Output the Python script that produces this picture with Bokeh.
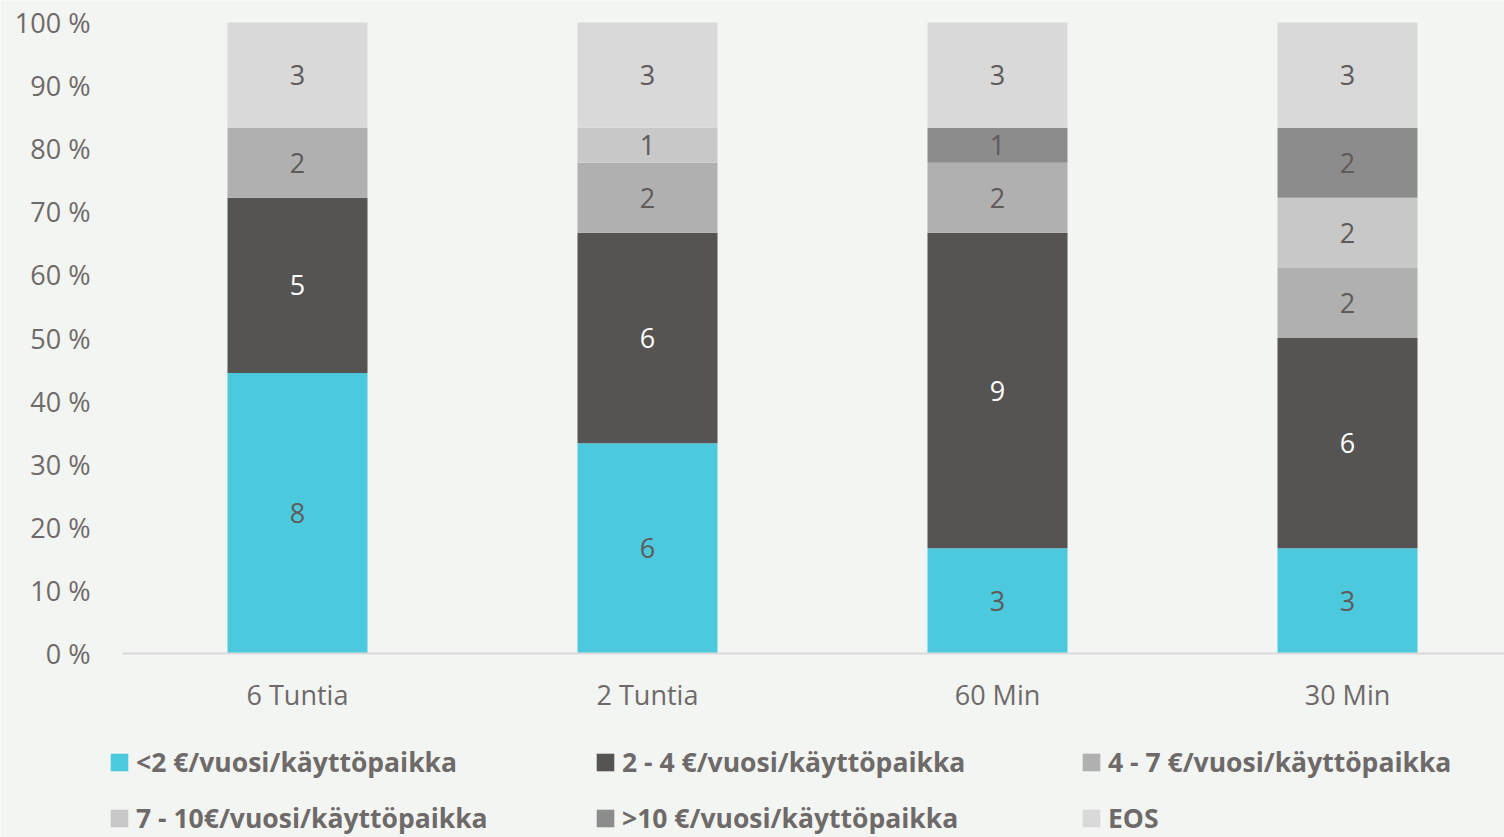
from bokeh.plotting import figure
from bokeh.models import Range1d, FixedTicker, Legend, LegendItem, ColumnDataSource
from bokeh.core.properties import value
from bokeh.embed import file_html
from bokeh.resources import INLINE

categories = ["6 Tuntia", "2 Tuntia", "60 Min", "30 Min"]
series_names = ["<2 €/vuosi/käyttöpaikka", "2 - 4 €/vuosi/käyttöpaikka", "4 - 7 €/vuosi/käyttöpaikka",
                "7 - 10€/vuosi/käyttöpaikka", ">10 €/vuosi/käyttöpaikka", "EOS"]
s_lt2 = [8, 6, 3, 3]
s_2_4 = [5, 6, 9, 6]
s_4_7 = [2, 2, 2, 2]
s_7_10 = [0, 1, 0, 2]
s_gt10 = [0, 0, 1, 2]
s_eos = [3, 3, 3, 3]
y_ticks = [0, 10, 20, 30, 40, 50, 60, 70, 80, 90, 100]

colors = ["#4DC9DE", "#555452", "#B0B0B0", "#C8C8C8", "#8C8C8C", "#D9D9D9"]
label_colors = ["#5F5B5B", "#FFFFFF", "#5F5B5B", "#5F5B5B", "#5F5B5B", "#5F5B5B"]
TXT = "#6E6A6A"
BG = "#F3F5F2"
FONT = "Open Sans"

all_series = [s_lt2, s_2_4, s_4_7, s_7_10, s_gt10, s_eos]
keys = ["s%d" % i for i in range(len(all_series))]
totals = [sum(s[i] for s in all_series) for i in range(len(categories))]
xs = [i + 0.5 for i in range(len(categories))]
n_cat = len(categories)

data = {"x": xs}
for k, s in zip(keys, all_series):
    data[k] = [100.0 * v / t for v, t in zip(s, totals)]
src = ColumnDataSource(data)

# frame spans whole canvas; axes are pinned at x=0 / y=0
W, H = 1504, 837
X0_PX, Y0_PX, Y100_PX = 122, 653, 22
px_per_x = 350.0
px_per_y = (Y0_PX - Y100_PX) / 100.0
x_rng = Range1d(-X0_PX / px_per_x, (W - X0_PX) / px_per_x)
y_rng = Range1d(-(H - Y0_PX) / px_per_y, 100 + Y100_PX / px_per_y)

p = figure(width=W, height=H, output_backend="svg", toolbar_location=None,
           x_range=x_rng, y_range=y_rng,
           min_border_left=0, min_border_right=0, min_border_top=0, min_border_bottom=0)
p.background_fill_color = BG
p.border_fill_color = BG
p.outline_line_color = None
p.grid.visible = False

rs = p.vbar_stack(keys, x="x", width=0.4, source=src, color=colors, line_color=None)

# data labels
lx, ly, lt, lc = [], [], [], []
for j in range(n_cat):
    cum = 0.0
    for i, s in enumerate(all_series):
        pct = data[keys[i]][j]
        if s[j] > 0:
            lx.append(xs[j]); ly.append(cum + pct / 2); lt.append(str(s[j])); lc.append(label_colors[i])
        cum += pct
p.text(x=lx, y=ly, text=lt, text_color=lc, text_align="center", text_baseline="middle",
       text_font=value(FONT), text_font_size="27px")

# axes
p.xaxis.fixed_location = 0
p.xaxis.bounds = (0, x_rng.end)
p.xaxis.ticker = FixedTicker(ticks=xs)
p.xaxis.major_label_overrides = {x: c for x, c in zip(xs, categories)}
p.xaxis.major_tick_line_color = None
p.xaxis.minor_tick_line_color = None
p.xaxis.axis_line_color = "#D9D9D9"
p.xaxis.axis_line_width = 2
p.xaxis.major_label_standoff = 16
p.xaxis.major_label_text_font = FONT
p.xaxis.major_label_text_font_size = "27px"
p.xaxis.major_label_text_color = TXT

p.yaxis.fixed_location = 0
p.yaxis.ticker = FixedTicker(ticks=y_ticks)
p.yaxis.major_label_overrides = {t: "%d %%" % t for t in y_ticks}
p.yaxis.major_tick_line_color = None
p.yaxis.minor_tick_line_color = None
p.yaxis.axis_line_color = None
p.yaxis.major_label_standoff = 26
p.yaxis.major_label_text_font = FONT
p.yaxis.major_label_text_font_size = "27px"
p.yaxis.major_label_text_color = TXT

# legend: 3 columns x 2 rows, placed in screen px from frame bottom-left
col_x = [108, 594, 1080]
row_y = [57, 1]
for i, name in enumerate(series_names):
    lg = Legend(items=[LegendItem(label=name, renderers=[rs[i]])],
                location=(col_x[i % 3], row_y[i // 3]),
                background_fill_alpha=0, border_line_color=None,
                padding=0, margin=0, spacing=0,
                glyph_width=22, glyph_height=22, label_standoff=6,
                label_text_font=FONT, label_text_font_style="bold",
                label_text_font_size="26.5px", label_text_color=TXT)
    p.add_layout(lg)

open("out.html", "w").write(file_html(p, INLINE))
